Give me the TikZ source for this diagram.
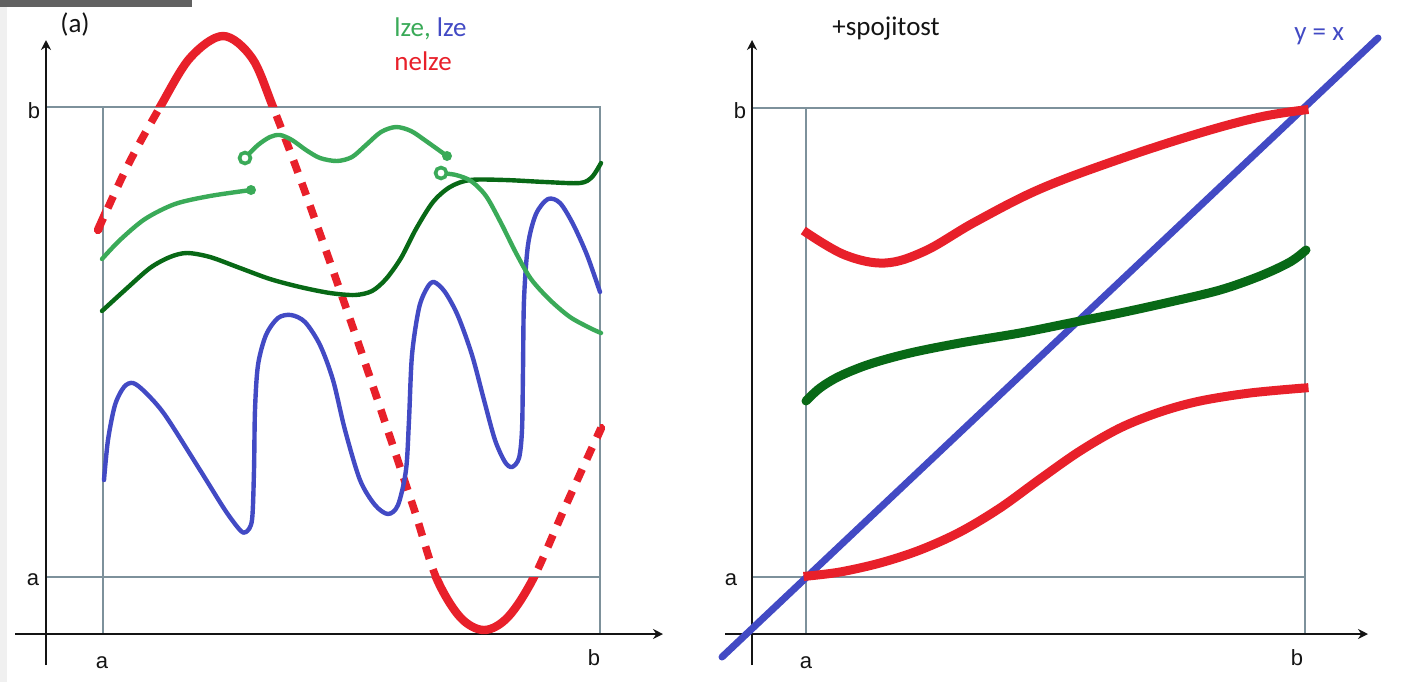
\documentclass[tikz,border=0pt]{standalone}
\usepackage{fontspec}
\setmainfont{Carlito}
\newfontfamily\ticksfont{Liberation Sans}
\usepackage{xcolor}
\usetikzlibrary{arrows.meta}
\definecolor{ink}{RGB}{20,20,20}
\definecolor{frameline}{RGB}{125,145,155}
\definecolor{nelzered}{RGB}{232,32,42}
\definecolor{lzeblue}{RGB}{66,74,196}
\definecolor{lzegreen}{RGB}{58,170,88}
\definecolor{darkgreen}{RGB}{8,105,22}
\tikzset{
  axis/.style={-{Stealth[length=5pt,width=5pt]}, line width=0.8pt, draw=ink},
  frame/.style={draw=frameline, line width=0.6pt},
  ticklbl/.style={font=\ticksfont\fontsize{11}{13}\selectfont, text=ink, inner sep=0pt},
  toplbl/.style={font=\fontsize{13.5}{16}\selectfont, inner sep=0pt},
  solidred/.style={draw=nelzered, line width=4.2pt, line cap=round},
  dashred/.style={draw=nelzered, line width=3.8pt, dash pattern=on 6.5pt off 5.5pt},
  wavy/.style={draw=#1, line width=2.2pt, line cap=round, line join=round},
  bold/.style={draw=#1, line width=4.5pt, line cap=round},
  fulldot/.style={fill=lzegreen},
  opendot/.style={draw=lzegreen, fill=white, line width=1.8pt},
}
\begin{document}
\begin{tikzpicture}[x=0.5pt,y=-0.5pt]
  \useasboundingbox (0,0) rectangle (1413,682);
  \fill[gray!12] (0,0) rectangle (7,682);
  \fill[black!62] (0,0) rectangle (192,7);

  % ---- left panel ----
  \draw[frame] (103,107) rectangle (600,577);
  \draw[frame] (46,107) -- (103,107);
  \draw[frame] (46,577) -- (103,577);
  \draw[frame] (103,577) -- (103,634);
  \draw[frame] (600,577) -- (600,634);
  \draw[axis] (46,665) -- (46,40);
  \draw[axis] (15,634) -- (663,634);

  \node[ticklbl] (lyb) at (34,111) {b};
  \node[ticklbl] (lya) at (33,580) {a};
  \node[ticklbl] (lxa) at (102,663) {a};
  \node[ticklbl] (lxb) at (594,658) {b};
  \node[toplbl, text=ink] (tag) at (75,24) {(a)};
  \node[toplbl, anchor=west] (lze) at (394,29) {\textcolor{lzegreen}{lze,} \textcolor{lzeblue}{lze}};
  \node[toplbl, anchor=west, text=nelzered] (nelze) at (394,61) {nelze};

  % nelze: solid outside the square, dashed inside
  \path[save path=\nelzecurve] plot[smooth, tension=0.55] coordinates {
    (98,230) (128,165) (160,107) (190,58) (223,36) (252,58) (273,107)
    (300,178) (330,262) (360,348) (390,437) (415,512) (436,577)
    (460,617) (484,630) (508,617) (534,577) (566,505) (601,428)};
  \begin{scope}
    \clip (0,0) rectangle (1413,682) (600,107) rectangle (103,577);
    \draw[solidred, use path=\nelzecurve];
  \end{scope}
  \begin{scope}
    \clip (103,107) rectangle (600,577);
    \draw[dashred, use path=\nelzecurve];
  \end{scope}

  % lze (blue)
  \draw[wavy=lzeblue] plot[smooth, tension=0.5] coordinates {
    (104,480) (108,440) (115,405) (124,387) (133,383) (145,392) (165,415)
    (200,470) (225,510) (240,530) (246,532) (252,520) (254,470) (255,410)
    (258,365) (266,335) (278,318) (291,315) (305,322) (320,345) (333,380)
    (345,430) (360,480) (375,505) (388,514) (398,505) (406,470) (409,420)
    (412,355) (419,308) (427,288) (434,282) (445,292) (458,316) (472,355)
    (484,400) (495,440) (505,462) (512,467) (519,458) (522,430) (523,370)
    (524,300) (528,245) (536,214) (548,199) (560,203) (573,224) (587,255)
    (600,292)};

  % lze (dark green)
  \draw[wavy=darkgreen] plot[smooth, tension=0.5] coordinates {
    (102,311) (125,290) (150,268) (170,257) (187,253) (210,257) (240,268)
    (270,279) (300,287) (330,293) (355,295) (372,291) (386,279) (401,258)
    (416,229) (433,202) (450,187) (470,180) (505,180) (545,182) (580,183)
    (592,177) (601,163)};

  % lze (light green, three pieces)
  \draw[wavy=lzegreen] plot[smooth, tension=0.5] coordinates {
    (102,259) (120,240) (145,219) (175,204) (210,196) (251,190)};
  \draw[wavy=lzegreen] plot[smooth, tension=0.5] coordinates {
    (245,158) (258,145) (270,137) (280,135) (292,140) (306,150) (320,158)
    (337,161) (352,157) (366,145) (381,132) (396,127) (411,131) (426,141)
    (447,156)};
  \draw[wavy=lzegreen] plot[smooth, tension=0.5] coordinates {
    (441,173) (456,175) (471,181) (486,196) (501,223) (516,253) (531,279)
    (550,300) (570,317) (590,328) (601,333)};
  \fill[fulldot] (251,190) circle (5);
  \fill[fulldot] (447,156) circle (5);
  \draw[opendot] (245,158) circle (5.5);
  \draw[opendot] (441,173) circle (5.5);

  % ---- right panel ----
  \draw[frame] (806,108) rectangle (1305,577);
  \draw[frame] (752,108) -- (806,108);
  \draw[frame] (752,577) -- (806,577);
  \draw[frame] (806,577) -- (806,634);
  \draw[frame] (1305,577) -- (1305,634);
  \draw[axis] (752,665) -- (752,40);
  \draw[axis] (725,634) -- (1368,634);

  \node[ticklbl] (ryb) at (740,111) {b};
  \node[ticklbl] (rya) at (731,580) {a};
  \node[ticklbl] (rxa) at (806,663) {a};
  \node[ticklbl] (rxb) at (1297,658) {b};
  \node[toplbl, anchor=west, text=ink] (spoj) at (832,29) {+spojitost};
  \node[toplbl, anchor=west, text=lzeblue] (diaglbl) at (1294,36) {y = x};

  \coordinate (d0) at (722,657);
  \coordinate (d1) at (1378,38);
  \draw[bold=lzeblue, line width=3.5pt] (d0) -- (d1);

  \draw[bold=nelzered, line cap=rect] plot[smooth, tension=0.6] coordinates {
    (807,233) (845,255) (885,263) (925,251) (975,222) (1040,189)
    (1120,159) (1200,133) (1260,117) (1304,110)};
  \draw[bold=darkgreen] plot[smooth, tension=0.55] coordinates {
    (806,401) (820,388) (840,376) (870,364) (910,353) (960,343) (1020,333)
    (1070,323) (1120,313) (1170,302) (1220,290) (1260,276) (1290,262)
    (1306,250)};
  \draw[bold=nelzered, line cap=rect] plot[smooth, tension=0.55] coordinates {
    (808,576) (840,572) (880,563) (920,550) (960,532) (1000,508) (1040,479)
    (1080,451) (1120,428) (1160,412) (1200,401) (1250,393) (1304,388)};
\end{tikzpicture}
\end{document}
